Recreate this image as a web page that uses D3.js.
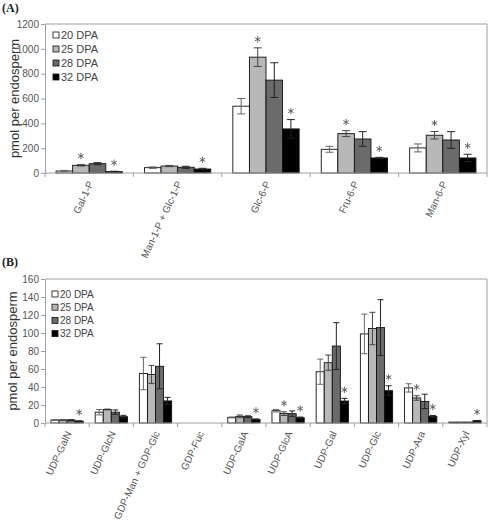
<!DOCTYPE html>
<html><head><meta charset="utf-8">
<script src="https://cdn.jsdelivr.net/npm/d3@7"></script>
<style>
html,body{margin:0;padding:0;background:#fff;}
svg{display:block;font-family:"Liberation Sans",Arial,sans-serif;}
</style></head>
<body>
<svg id="chart" width="488" height="520"></svg>
<script>
// ---------- DATA ----------
const seriesNames = ["20 DPA", "25 DPA", "28 DPA", "32 DPA"];

// Panel A
const categoriesA = ["Gal-1-P", "Man-1-P + Glc-1-P", "Glc-6-P", "Fru-6-P", "Man-6-P"];
const dpa20A = [16, 43, 538, 191, 202];
const dpa25A = [62, 56, 933, 317, 304];
const dpa28A = [75, 46, 748, 274, 266];
const dpa32A = [11, 32, 355, 121, 121];
const err20A = [5, 6, 62, 24, 32];
const err25A = [6, 5, 75, 24, 30];
const err28A = [8, 8, 140, 59, 67];
const err32A = [3, 6, 75, 5, 30];
const sig20A = [0, 0, 0, 0, 0];
const sig25A = [1, 0, 1, 1, 1];
const sig28A = [0, 0, 0, 0, 0];
const sig32A = [1, 1, 1, 1, 1];
const ticksA = [0, 200, 400, 600, 800, 1000, 1200];

// Panel B
const categoriesB = ["UDP-GalN", "UDP-GlcN", "GDP-Man + GDP-Glc", "GDP-Fuc", "UDP-GalA",
                     "UDP-GlcA", "UDP-Gal", "UDP-Glc", "UDP-Ara", "UDP-Xyl"];
const dpa20B = [3.3, 12, 55, 0, 6.2, 13.7, 57, 99, 39, 1];
const dpa25B = [3.3, 15, 54, 0, 7.4, 10.4, 67, 105, 27.8, 1];
const dpa28B = [3.3, 12, 63, 0, 7, 10.4, 85.5, 106, 24, 1];
const dpa32B = [2, 7, 24.5, 0, 4, 5.9, 24.4, 35.9, 7.4, 2.5];
const err20B = [0.3, 3, 18, 0, 0.5, 1.4, 14, 22, 4.6, 0];
const err25B = [0.3, 0.5, 10, 0, 1.5, 2, 8.5, 18, 2.5, 0];
const err28B = [0.3, 2.5, 25, 0, 1, 3, 26, 31, 8, 0];
const err32B = [0.5, 1.5, 4, 0, 0.5, 0.7, 3, 5.5, 1, 0.3];
const sig20B = [0, 0, 0, 0, 0, 0, 0, 0, 0, 0];
const sig25B = [0, 0, 0, 0, 0, 1, 0, 0, 1, 0];
const sig28B = [0, 0, 0, 0, 0, 0, 0, 0, 0, 0];
const sig32B = [1, 0, 0, 0, 1, 1, 1, 1, 1, 1];
const ticksB = [0, 20, 40, 60, 80, 100, 120, 140, 160];

const yTitle = "pmol per endosperm";

// ---------- STYLE ----------
const fills = ["#ffffff", "#b8b8b8", "#6b6b6b", "#000000"];
const errColors = ["#666", "#444", "#222", "#222"];
const gridGrey = "#a0a0a0";
const textGrey = "#555";

const svg = d3.select("#chart");
const starPath = d3.symbol(d3.symbolAsterisk, 28)();

function drawPanel(o) {
  const g = svg.append("g");
  const x = d3.scaleBand().domain(o.categories).range([o.x0, o.x1])
    .paddingInner(o.padIn).paddingOuter(o.padOut);
  const xs = d3.scaleBand().domain(seriesNames).range([0, x.bandwidth()]);
  const y = d3.scaleLinear().domain([0, o.ticks[o.ticks.length - 1]]).range([o.yBottom, o.yTop]);

  // frame (top + right)
  g.append("line").attr("x1", o.x0).attr("x2", o.x1).attr("y1", o.yTop).attr("y2", o.yTop)
    .attr("stroke", gridGrey).attr("stroke-width", 1);
  g.append("line").attr("x1", o.x1).attr("x2", o.x1).attr("y1", o.yTop).attr("y2", o.yBottom)
    .attr("stroke", gridGrey).attr("stroke-width", 1);

  // y axis
  const ya = g.append("g").attr("transform", `translate(${o.x0},0)`)
    .call(d3.axisLeft(y).tickValues(o.ticks).tickFormat(d3.format("d"))
      .tickSize(4).tickPadding(2).tickSizeOuter(0));
  ya.attr("font-family", null);
  ya.select(".domain").attr("stroke", gridGrey);
  ya.selectAll(".tick line").attr("stroke", gridGrey);
  ya.selectAll(".tick text").attr("fill", textGrey).style("font-size", "10px")
    .style("font-family", "Liberation Sans, Arial, sans-serif");

  // y title
  g.append("text")
    .attr("transform", `translate(${o.titleX},${(o.yTop + o.yBottom) / 2}) rotate(-90)`)
    .attr("text-anchor", "middle").attr("dy", "0.35em")
    .style("font-size", "13px").attr("fill", "#333").text(yTitle);

  // bars
  const series = o.values.map((vals, si) => ({ si, vals }));
  series.forEach(s => {
    const sg = g.append("g");
    const data = o.categories.map((c, i) => ({ c, i, v: s.vals[i], e: o.errors[s.si][i], sig: o.sigs[s.si][i] }));
    sg.selectAll("rect").data(data.filter(d => d.v > 0)).join("rect")
      .attr("x", d => x(d.c) + xs(seriesNames[s.si]))
      .attr("width", xs.bandwidth())
      .attr("y", d => y(d.v))
      .attr("height", d => y(0) - y(d.v))
      .attr("fill", fills[s.si])
      .attr("stroke", "#111").attr("stroke-width", 0.9);
    // error bars
    const eb = sg.selectAll("g.err").data(data.filter(d => d.e > 0)).join("g").attr("class", "err")
      .attr("stroke", errColors[s.si]).attr("stroke-width", 1);
    const cx = d => x(d.c) + xs(seriesNames[s.si]) + xs.bandwidth() / 2;
    eb.append("line").attr("x1", cx).attr("x2", cx)
      .attr("y1", d => y(d.v - d.e)).attr("y2", d => y(d.v + d.e));
    eb.append("line").attr("x1", d => cx(d) - o.cap / 2).attr("x2", d => cx(d) + o.cap / 2)
      .attr("y1", d => y(d.v + d.e)).attr("y2", d => y(d.v + d.e));
    eb.append("line").attr("x1", d => cx(d) - o.cap / 2).attr("x2", d => cx(d) + o.cap / 2)
      .attr("y1", d => y(d.v - d.e)).attr("y2", d => y(d.v - d.e));
    // significance stars
    sg.selectAll("path.star").data(data.filter(d => d.sig)).join("path").attr("class", "star")
      .attr("transform", d => `translate(${cx(d)},${y(d.v + d.e) - 8.5})`)
      .attr("d", starPath)
      .attr("fill", "none").attr("stroke", textGrey).attr("stroke-width", 0.9);
  });

  // x axis line and ticks at category boundaries
  g.append("line").attr("x1", o.x0).attr("x2", o.x1).attr("y1", o.yBottom).attr("y2", o.yBottom)
    .attr("stroke", gridGrey);
  const bounds = o.categories.map(c => x(c) - x.step() * o.padOut).concat([o.x1]);
  g.selectAll("line.xt").data(bounds).join("line").attr("class", "xt")
    .attr("x1", d => d).attr("x2", d => d).attr("y1", o.yBottom).attr("y2", o.yBottom + 4)
    .attr("stroke", gridGrey);

  // x labels
  g.selectAll("text.xl").data(o.categories).join("text").attr("class", "xl")
    .attr("transform", c => `translate(${x(c) + x.bandwidth() / 2 + 2},${o.yBottom + 9}) rotate(-65)`)
    .attr("text-anchor", "end").attr("dy", "0.3em")
    .style("font-size", "10px").attr("fill", textGrey).text(c => c);

  // legend
  seriesNames.forEach((n, i) => {
    const ly = o.legY + i * o.legStep;
    g.append("rect").attr("x", o.legX).attr("y", ly - 3).attr("width", 6).attr("height", 6)
      .attr("fill", fills[i]).attr("stroke", "#111").attr("stroke-width", 0.8);
    g.append("text").attr("x", o.legX + 8).attr("y", ly).attr("dy", "0.35em")
      .style("font-size", o.legFont + "px").attr("fill", "#444").text(n);
  });

  // panel label
  g.append("text").attr("x", 2).attr("y", o.labelY)
    .style("font-family", "Liberation Serif, Times New Roman, serif")
    .style("font-weight", "bold").style("font-size", "12px").attr("fill", "#222").text(o.label);
}

drawPanel({
  categories: categoriesA,
  values: [dpa20A, dpa25A, dpa28A, dpa32A],
  errors: [err20A, err25A, err28A, err32A],
  sigs: [sig20A, sig25A, sig28A, sig32A],
  ticks: ticksA,
  x0: 45, x1: 487, yTop: 24, yBottom: 173,
  padIn: 0.25, padOut: 0.125, cap: 8,
  titleX: 14,
  legX: 53, legY: 35, legStep: 14, legFont: 11,
  label: "(A)", labelY: 12
});

drawPanel({
  categories: categoriesB,
  values: [dpa20B, dpa25B, dpa28B, dpa32B],
  errors: [err20B, err25B, err28B, err32B],
  sigs: [sig20B, sig25B, sig28B, sig32B],
  ticks: ticksB,
  x0: 45, x1: 487, yTop: 279, yBottom: 423,
  padIn: 0.27, padOut: 0.135, cap: 6,
  titleX: 12,
  legX: 52, legY: 294, legStep: 13.2, legFont: 10,
  label: "(B)", labelY: 266
});
</script>
</body></html>
